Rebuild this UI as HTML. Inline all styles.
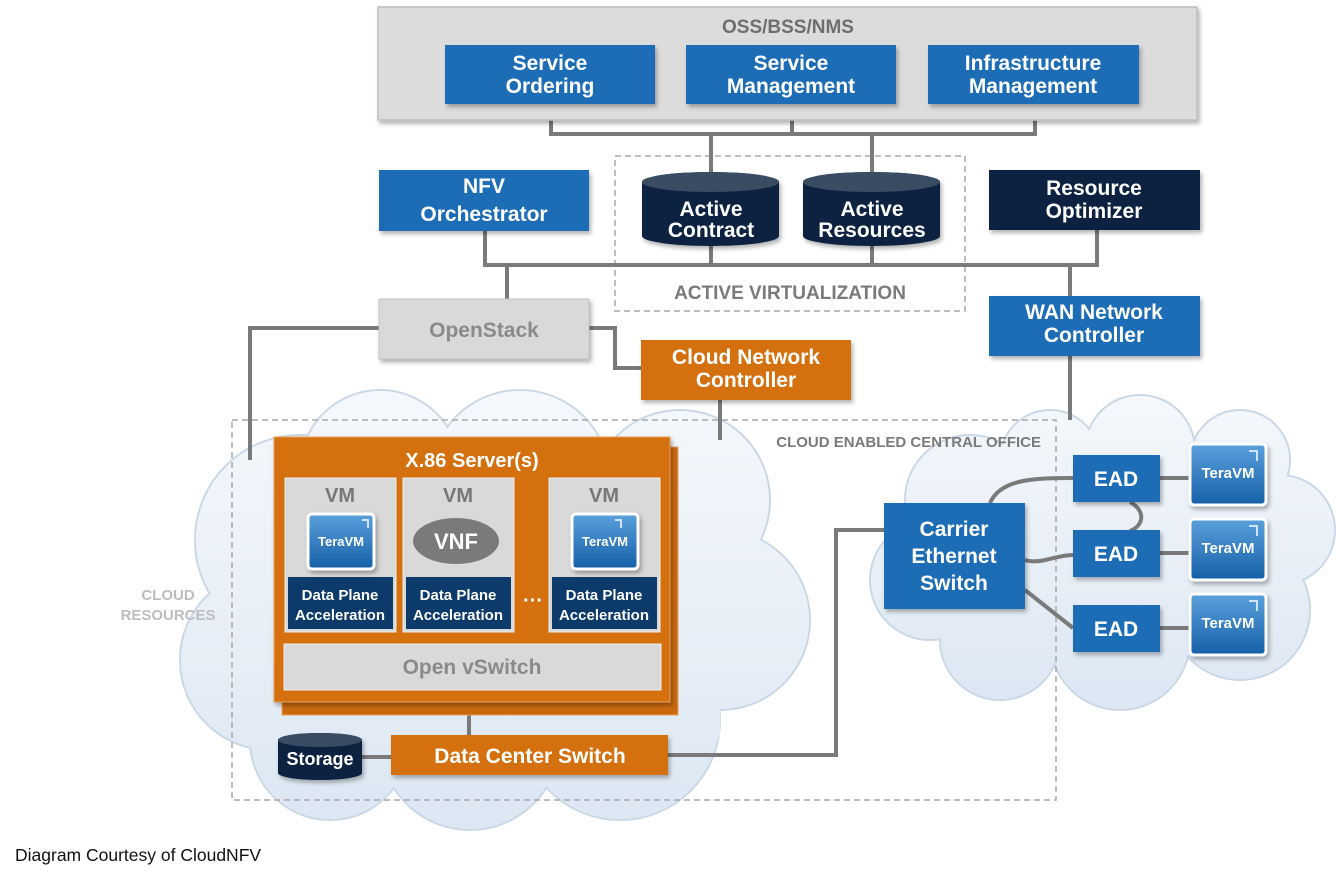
<!DOCTYPE html>
<html><head><meta charset="utf-8"><style>
html,body{margin:0;padding:0;background:#fff}
svg{display:block}
text{font-family:"Liberation Sans",Arial,sans-serif;font-weight:bold}
</style></head><body>
<svg width="1336" height="877" viewBox="0 0 1336 877" xmlns="http://www.w3.org/2000/svg">
<defs>
<linearGradient id="cl" gradientUnits="userSpaceOnUse" x1="0" y1="390" x2="0" y2="830"><stop offset="0" stop-color="#f5f8fc"/><stop offset="1" stop-color="#dce7f3"/></linearGradient>
<linearGradient id="cr" gradientUnits="userSpaceOnUse" x1="0" y1="395" x2="0" y2="710"><stop offset="0" stop-color="#f5f8fc"/><stop offset="1" stop-color="#dce7f3"/></linearGradient>
<linearGradient id="tv" x1="0" y1="0" x2="0" y2="1"><stop offset="0" stop-color="#5aa0dc"/><stop offset="1" stop-color="#1560a8"/></linearGradient>
<filter id="sh" x="-10%" y="-10%" width="130%" height="140%"><feDropShadow dx="2" dy="3" stdDeviation="2" flood-color="#000" flood-opacity="0.3"/></filter>
</defs>

<!-- Left cloud -->
<g stroke="#c9d7e6" stroke-width="2" fill="#eef3f9">
<circle cx="300" cy="540" r="105"/><circle cx="270" cy="660" r="90"/><circle cx="330" cy="740" r="80"/>
<circle cx="470" cy="740" r="90"/><circle cx="620" cy="720" r="100"/><circle cx="720" cy="620" r="90"/>
<circle cx="680" cy="500" r="90"/><circle cx="520" cy="480" r="90"/><circle cx="380" cy="470" r="80"/>
</g>
<g fill="url(#cl)">
<circle cx="300" cy="540" r="104"/><circle cx="270" cy="660" r="89"/><circle cx="330" cy="740" r="79"/>
<circle cx="470" cy="740" r="89"/><circle cx="620" cy="720" r="99"/><circle cx="720" cy="620" r="89"/>
<circle cx="680" cy="500" r="89"/><circle cx="520" cy="480" r="89"/><circle cx="380" cy="470" r="79"/>
<rect x="300" y="500" width="420" height="240"/>
</g>
<!-- Right cloud -->
<g stroke="#c9d7e6" stroke-width="2" fill="#eef3f9">
<circle cx="970" cy="500" r="65"/><circle cx="930" cy="580" r="60"/><circle cx="1000" cy="640" r="60"/>
<circle cx="1120" cy="640" r="70"/><circle cx="1240" cy="610" r="70"/><circle cx="1280" cy="530" r="55"/>
<circle cx="1240" cy="460" r="50"/><circle cx="1140" cy="450" r="55"/><circle cx="1050" cy="460" r="50"/>
</g>
<g fill="url(#cr)">
<circle cx="970" cy="500" r="64"/><circle cx="930" cy="580" r="59"/><circle cx="1000" cy="640" r="59"/>
<circle cx="1120" cy="640" r="69"/><circle cx="1240" cy="610" r="69"/><circle cx="1280" cy="530" r="54"/>
<circle cx="1240" cy="460" r="49"/><circle cx="1140" cy="450" r="54"/><circle cx="1050" cy="460" r="49"/>
<rect x="960" y="470" width="300" height="170"/>
</g>

<!-- dashed boxes -->
<rect x="232" y="420" width="824" height="380" fill="none" stroke="#a8a8a8" stroke-width="1.5" stroke-dasharray="6,4"/>
<rect x="615" y="156" width="350" height="155" fill="none" stroke="#a8a8a8" stroke-width="1.5" stroke-dasharray="6,4"/>

<!-- connectors -->
<g stroke="#7a7a7a" stroke-width="4" fill="none">
<path d="M551 104V134H1035V104M792 104V134M711 134V175M872 134V175"/>
<path d="M485 231V265H1097V230M711 244V265M872 244V265M507 265V299M1070 265V296"/>
<path d="M379 328H250V460M589 328H615V368H641M720 400V440M1070 356V420"/>
<path d="M469 690V735M362 757H391M668 755H836V530H884"/>
<path d="M990 503C1000 480 1030 478 1073 478M1025 560C1040 565 1055 555 1073 555M1025 590L1073 628M1130 502C1145 510 1145 525 1130 531M1160 478H1189M1160 553H1189M1160 628H1189"/>
</g>

<!-- OSS box -->
<rect x="378" y="7" width="819" height="113" fill="#dcdcdc" stroke="#bdbdbd" stroke-width="1.5" filter="url(#sh)"/>
<text x="788" y="33" font-size="19" fill="#6e6e6e" text-anchor="middle">OSS/BSS/NMS</text>
<g fill="#1f6db5" filter="url(#sh)">
<rect x="445" y="45" width="210" height="59"/><rect x="686" y="45" width="210" height="59"/><rect x="928" y="45" width="211" height="59"/>
<rect x="379" y="170" width="210" height="61"/><rect x="989" y="296" width="211" height="60"/>
<rect x="884" y="503" width="141" height="106"/>
<rect x="1073" y="455" width="87" height="47"/><rect x="1073" y="530" width="87" height="47"/><rect x="1073" y="605" width="87" height="47"/>
</g>
<rect x="989" y="170" width="211" height="60" fill="#0c2340" filter="url(#sh)"/>
<g fill="#fff" font-size="21" text-anchor="middle">
<text x="550" y="70">Service</text><text x="550" y="93">Ordering</text>
<text x="791" y="70">Service</text><text x="791" y="93">Management</text>
<text x="1033" y="70">Infrastructure</text><text x="1033" y="93">Management</text>
<text x="484" y="193">NFV</text><text x="484" y="221">Orchestrator</text>
<text x="1094" y="195">Resource</text><text x="1094" y="218">Optimizer</text>
<text x="1094" y="319">WAN Network</text><text x="1094" y="342">Controller</text>
<text x="954" y="536">Carrier</text><text x="954" y="563">Ethernet</text><text x="954" y="590">Switch</text>
<text x="1116" y="486">EAD</text><text x="1116" y="561">EAD</text><text x="1116" y="636">EAD</text>
</g>

<!-- cylinders -->
<g fill="#0c2340" filter="url(#sh)">
<path d="M642 182A68.5 10 0 0 1 779 182V236A68.5 10 0 0 1 642 236Z"/>
<path d="M803 182A68.5 10 0 0 1 940 182V236A68.5 10 0 0 1 803 236Z"/>
<path d="M278 740A42 7 0 0 1 362 740V773A42 7 0 0 1 278 773Z"/>
</g>
<g fill="#3a4c62"><ellipse cx="710.5" cy="182" rx="68.5" ry="10"/><ellipse cx="871.5" cy="182" rx="68.5" ry="10"/><ellipse cx="320" cy="740" rx="42" ry="7"/></g>
<g fill="#fff" font-size="21" text-anchor="middle">
<text x="711" y="216">Active</text><text x="711" y="237">Contract</text>
<text x="872" y="216">Active</text><text x="872" y="237">Resources</text>
<text x="320" y="765" font-size="18">Storage</text>
</g>
<text x="790" y="299" font-size="19" fill="#7a7a7a" text-anchor="middle">ACTIVE VIRTUALIZATION</text>

<!-- OpenStack, CNC -->
<rect x="379" y="299" width="210" height="60" fill="#d9d9d9" stroke="#c4c4c4" filter="url(#sh)"/>
<text x="484" y="337" font-size="21" fill="#8a8a8a" text-anchor="middle">OpenStack</text>
<rect x="641" y="340" width="210" height="60" fill="#d46f10" filter="url(#sh)"/>
<text x="746" y="364" font-size="21" fill="#fff" text-anchor="middle">Cloud Network</text>
<text x="746" y="387" font-size="21" fill="#fff" text-anchor="middle">Controller</text>

<text x="1041" y="447" font-size="15" fill="#7a7a7a" text-anchor="end">CLOUD ENABLED CENTRAL OFFICE</text>
<text x="168" y="600" font-size="15" fill="#bdbdbd" text-anchor="middle">CLOUD</text>
<text x="168" y="620" font-size="15" fill="#bdbdbd" text-anchor="middle">RESOURCES</text>

<!-- server -->
<rect x="282" y="447" width="396" height="268" fill="#c9680f" stroke="#e8a060"/>
<rect x="274" y="437" width="396" height="265" fill="#d46f10" stroke="#e8a060" filter="url(#sh)"/>
<text x="472" y="467" font-size="20" fill="#fff" text-anchor="middle">X.86 Server(s)</text>
<g fill="#d9d9d9" stroke="#eee"><rect x="285" y="478" width="111" height="154"/><rect x="403" y="478" width="111" height="154"/><rect x="549" y="478" width="111" height="154"/></g>
<g fill="#777" font-size="20" text-anchor="middle"><text x="340" y="502">VM</text><text x="458" y="502">VM</text><text x="604" y="502">VM</text></g>
<g fill="#0c3a6a"><rect x="288" y="577" width="105" height="52"/><rect x="406" y="577" width="105" height="52"/><rect x="552" y="577" width="105" height="52"/></g>
<g fill="#fff" font-size="15" text-anchor="middle">
<text x="340" y="600">Data Plane</text><text x="340" y="620">Acceleration</text>
<text x="458" y="600">Data Plane</text><text x="458" y="620">Acceleration</text>
<text x="604" y="600">Data Plane</text><text x="604" y="620">Acceleration</text>
</g>
<text x="533" y="607" font-size="20" fill="#fff" text-anchor="middle">···</text>
<ellipse cx="456" cy="541" rx="43" ry="23" fill="#7a7a7a"/>
<text x="456" y="549" font-size="22" fill="#fff" text-anchor="middle">VNF</text>
<rect x="284" y="644" width="377" height="46" fill="#d9d9d9" stroke="#eee"/>
<text x="472" y="674" font-size="21" fill="#8a8a8a" text-anchor="middle">Open vSwitch</text>
<rect x="391" y="735" width="277" height="40" fill="#d46f10" filter="url(#sh)"/>
<text x="530" y="763" font-size="21" fill="#fff" text-anchor="middle">Data Center Switch</text>

<!-- TeraVM icons -->
<g stroke="#fff" stroke-width="3" fill="url(#tv)" filter="url(#sh)">
<rect x="308" y="514" width="66" height="55" rx="4"/><rect x="572" y="514" width="66" height="55" rx="4"/>
<rect x="1190" y="444" width="76" height="61" rx="4"/><rect x="1190" y="519" width="76" height="61" rx="4"/><rect x="1190" y="594" width="76" height="61" rx="4"/>
</g>
<g fill="#fff" font-size="13" text-anchor="middle">
<text x="341" y="546">TeraVM</text><text x="605" y="546">TeraVM</text>
</g>
<g fill="#fff" font-size="15" text-anchor="middle">
<text x="1228" y="478">TeraVM</text><text x="1228" y="553">TeraVM</text><text x="1228" y="628">TeraVM</text>
</g>
<g stroke="#cfe3f5" stroke-width="2" fill="none">
<path d="M362 520h6v8M615 520h6v8M1249 451h8v10M1249 526h8v10M1249 601h8v10"/>
</g>

<text x="15" y="861" font-size="17.5" style="font-weight:normal" fill="#111">Diagram Courtesy of CloudNFV</text>
</svg>
</body></html>
